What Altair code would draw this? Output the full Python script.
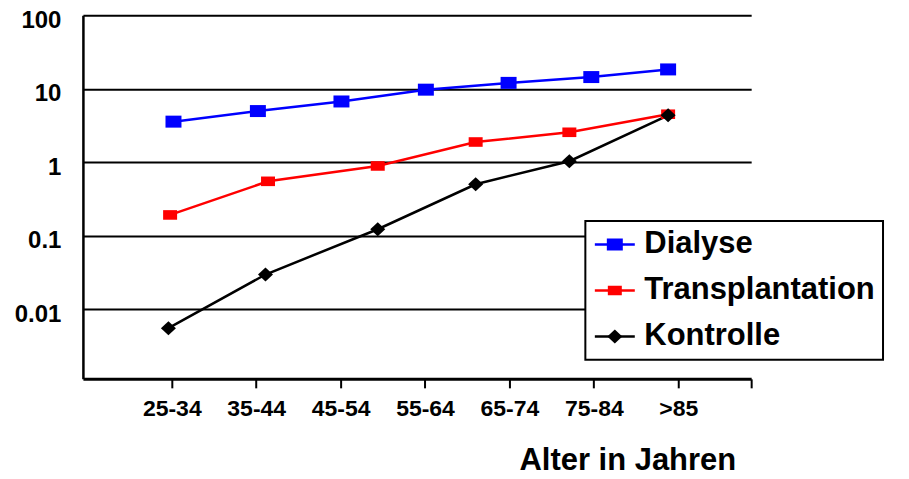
import altair as alt
import pandas as pd

# ---- data ----
age_groups = ["25-34", "35-44", "45-54", "55-64", "65-74", "75-84", ">85"]
series_names = ["Dialyse", "Transplantation", "Kontrolle"]

dialyse_x = [1.02, 2.02, 3.01, 4.01, 4.99, 5.97, 6.88]
dialyse_y = [3.56, 4.96, 6.7, 9.7, 12.0, 14.4, 18.3]

transpl_x = [0.98, 2.14, 3.44, 4.60, 5.71, 6.88]
transpl_y = [0.191, 0.548, 0.887, 1.88, 2.55, 4.49]

kontr_x = [0.96, 2.11, 3.44, 4.60, 5.71, 6.88]
kontr_y = [0.00548, 0.0295, 0.122, 0.50, 1.03, 4.34]

y_ticks = [0.01, 0.1, 1, 10, 100]

# ---- table ----
rows = []
for name, xs, ys in zip(series_names, [dialyse_x, transpl_x, kontr_x],
                        [dialyse_y, transpl_y, kontr_y]):
    for i, (xv, yv) in enumerate(zip(xs, ys)):
        rows.append({"series": name, "pos": xv, "rate": yv, "order": i})
df = pd.DataFrame(rows)

FONT = "Liberation Sans"
colors = ["#0000FF", "#FF0000", "#000000"]
shapes = [
    "M-1,-0.75H1V0.75H-1Z",
    "M-0.875,-0.6H0.875V0.6H-0.875Z",
    "M-0.94,0L0,-0.875L0.94,0L0,0.875Z",
]
MARKER_SIZE = 256

x_tick_values = list(range(1, 8)) + [7.864]
label_expr = "datum.value > 7.5 ? '' : " + str(age_groups) + "[round(datum.value) - 1]"

x_enc = alt.X(
    "pos:Q",
    scale=alt.Scale(domain=[-0.053, 7.864], nice=False, zero=False),
    axis=alt.Axis(
        values=x_tick_values, labelExpr=label_expr, grid=False,
        domainColor="black", domainWidth=3, tickColor="black", tickWidth=2,
        tickSize=9, labelFontSize=23, labelFontWeight="bold", labelColor="black",
        labelPadding=28, labelBaseline="alphabetic", labelFlush=False,
        labelOverlap=False, title="Alter in Jahren", titleFontSize=31,
        titleFontWeight="bold", titleColor="black", titleX=545, titleY=91,
        titleAlign="center", titleBaseline="alphabetic",
    ),
)
y_enc = alt.Y(
    "rate:Q",
    scale=alt.Scale(type="log", domain=[0.00112, 100], nice=False),
    axis=alt.Axis(
        values=y_ticks, format="~g", grid=True, gridColor="black", gridWidth=2,
        gridOpacity=1, domainColor="black", domainWidth=2.5, ticks=False,
        tickSize=0, labelFontSize=24, labelFontWeight="bold", labelColor="black",
        labelPadding=22, labelOffset=5, labelFlush=False, labelOverlap=False,
        title=None,
    ),
)

common_legend = dict(
    title=None, orient="none", legendY=206, labelFontSize=31,
    labelFontWeight="bold", labelLimit=400, clipHeight=31, rowPadding=14,
    padding=8, symbolOpacity=1, labelOffset=8,
)
line_legend = alt.Legend(
    legendX=503, symbolType="stroke", symbolSize=1600, symbolStrokeWidth=2.5,
    labelColor="black", strokeColor="black", fillColor="white", **common_legend,
)
marker_legend = alt.Legend(
    legendX=509, symbolSize=MARKER_SIZE, symbolStrokeWidth=0, labelExpr="''",
    **common_legend,
)

lines = alt.Chart(df).mark_line(strokeWidth=2.5).encode(
    x=x_enc, y=y_enc,
    color=alt.Color("series:N", scale=alt.Scale(domain=series_names, range=colors),
                    legend=line_legend),
    order="order:Q",
)
points = alt.Chart(df).mark_point(
    filled=True, opacity=1, strokeWidth=0, size=MARKER_SIZE
).encode(
    x=x_enc, y=y_enc,
    color=alt.Color("series:N", scale=alt.Scale(domain=series_names, range=colors),
                    legend=marker_legend),
    shape=alt.Shape("series:N", scale=alt.Scale(domain=series_names, range=shapes),
                    legend=marker_legend),
)

chart = (
    alt.layer(lines, points)
    .resolve_scale(color="independent", shape="independent")
    .properties(
        width=669, height=364,
        autosize=alt.AutoSizeParams(type="none"),
        padding={"left": 75, "top": 7, "right": 150, "bottom": 98},
    )
    .configure(font=FONT)
    .configure_view(strokeWidth=0)
    .configure_legend(strokeWidth=2)
)

chart.save("out.html", embed_options={"renderer": "svg", "actions": False})
